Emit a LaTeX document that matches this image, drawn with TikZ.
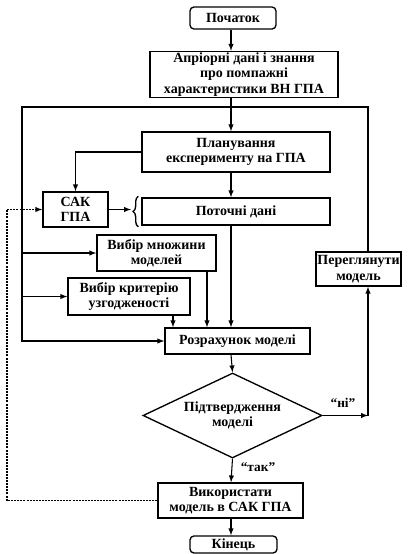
\documentclass[tikz,border=0pt]{standalone}
\usepackage{fontspec}
\setmainfont{Liberation Serif}
\usetikzlibrary{shapes.geometric,decorations.pathreplacing,calc}

\tikzset{
  blok/.style={draw, line width=1pt, align=center, inner sep=1pt,
    font=\bfseries\fontsize{10.5}{11.5}\selectfont},
  term/.style={blok, rounded corners=3pt},
  rombus/.style={blok, diamond, aspect=2.1, inner sep=0pt},
  mitka/.style={inner sep=0.75pt, font=\bfseries\fontsize{10}{11}\selectfont},
  zv/.style={line width=0.8pt},
  strilka/.style={zv, -latex},
}

\begin{document}
\begin{tikzpicture}[x=0.75pt,y=0.75pt,yscale=-1,xscale=1]
\path[use as bounding box] (0,0) rectangle (420,554);

% Blocks
\node[term, minimum width=64.5pt, minimum height=16.5pt] (start) at (233,18) {Початок};
\node[blok, minimum width=141pt, minimum height=33.75pt] (apr) at (244,74.5) {Апріорні дані і знання\\про помпажні\\характеристики ВН ГПА};
\node[blok, minimum width=141pt, minimum height=30pt] (plan) at (236,152) {Планування\\експерименту на ГПА};
\node[blok, minimum width=48.75pt, minimum height=26.25pt] (sak) at (75.5,209.5) {САК\\ГПА};
\node[blok, minimum width=141pt, minimum height=20.25pt] (dani) at (236,211.5) {Поточні дані};
\node[blok, minimum width=89.25pt, minimum height=27pt] (mnozh) at (156.5,253) {Вибір множини\\моделей};
\node[blok, minimum width=91.5pt, minimum height=27.75pt] (krit) at (129,296.5) {Вибір критерію\\узгодженості};
\node[blok, minimum width=108.75pt, minimum height=19.5pt] (rozr) at (237.5,341) {Розрахунок моделі};
\node[rombus, minimum width=134.25pt, minimum height=63.75pt] (pidtv) at (232.5,415.5) {Підтвердження\\моделі};
\node[blok, minimum width=62.25pt, minimum height=25.5pt] (perehl) at (358.5,269) {Переглянути\\модель};
\node[blok, minimum width=108.75pt, minimum height=26.25pt] (vyk) at (230.5,500.5) {Використати\\модель в САК ГПА};
\node[term, minimum width=65.25pt, minimum height=12.75pt] (kin) at (233.5,544.5) {Кінець};

% Labels
\node[mitka] (ni) at (343,403) {“ні”};
\node[mitka] (tak) at (258,467) {“так”};

% Helper coordinates
\coordinate (os) at (231,0);
\coordinate (lv) at (22,107);
\coordinate (pv) at (368,107);
\coordinate (lz) at (7,0);
\coordinate (k1) at (173,0);
\coordinate (k2) at (207,0);
\coordinate (dujka) at (131,0);

% Main column
\draw[strilka] (os |- start.south) -- (os |- apr.north);
\draw[strilka] (os |- apr.south) -- (os |- plan.north);
\draw[strilka] (os |- plan.south) -- (os |- dani.north);
\draw[strilka] (os |- dani.south) -- (os |- rozr.north);
\draw[strilka] (os |- rozr.south) -- (pidtv.north);
\draw[strilka] (pidtv.south) -- (os |- vyk.north);
\draw[strilka] (os |- vyk.south) -- (os |- kin.north);

% Frame loop
\draw[strilka] (perehl.north -| pv) -- (pv) -- (lv) |- (rozr.west);
\draw[strilka] (lv |- mnozh.west) -- (mnozh.west);
\draw[strilka] (lv |- krit.west) -- (krit.west);
\draw[strilka] (k2 |- mnozh.south) -- (k2 |- rozr.north);
\draw[strilka] (k1 |- krit.south) -- (k1 |- rozr.north);

% SAK
\draw[strilka] (plan.west) -| (sak.north);
\draw[strilka] (sak.east) -- (sak.east -| dujka);
\draw[line width=1pt, decorate, decoration={brace, amplitude=4pt}] ($(dani.south west)+(-3,1)$) -- ($(dani.north west)+(-3,-1)$);

% "ni" branch
\draw[strilka] (pidtv.east) -- (pidtv.east -| pv);
\draw[strilka] (pidtv.east -| pv) -- (perehl.south -| pv);

% Feedback
\draw[strilka, dash pattern=on 1.5pt off 0.8pt] (vyk.west) -- (vyk.west -| lz) -- (lz |- sak.west) -- (sak.west);

\end{tikzpicture}
\end{document}
